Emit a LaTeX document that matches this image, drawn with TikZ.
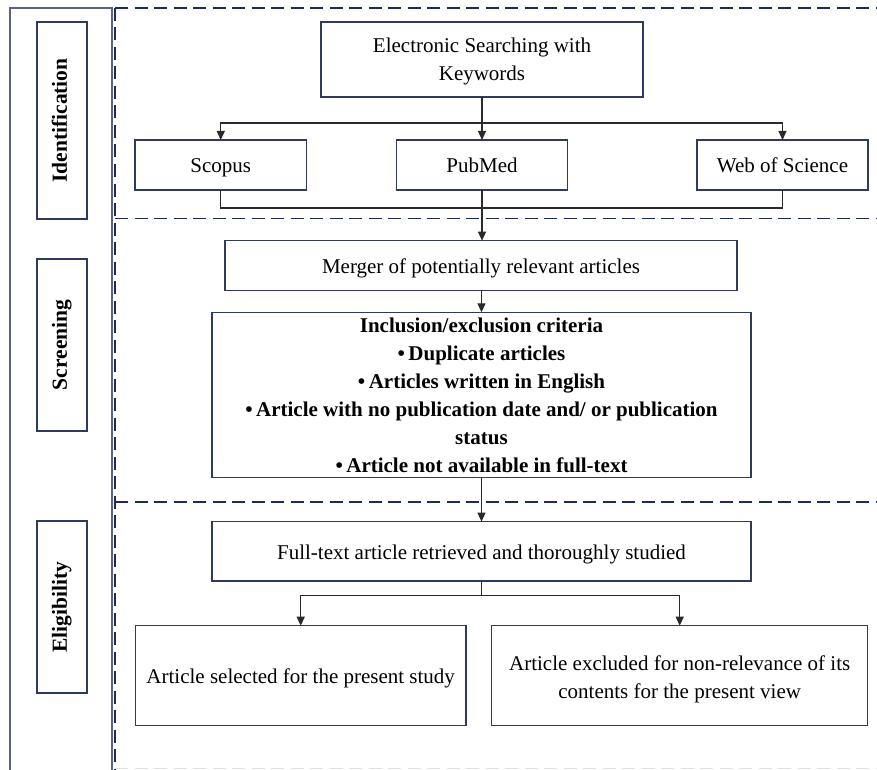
\documentclass[tikz,border=0pt]{standalone}
\usepackage{fontspec}
\setmainfont{Liberation Serif}
\usetikzlibrary{arrows.meta}
\definecolor{boxc}{HTML}{2F3A5F}
\definecolor{panelc}{HTML}{5C6285}
\definecolor{dashc}{HTML}{1F2A5C}
\definecolor{connc}{HTML}{2A2A2A}
\begin{document}
\begin{tikzpicture}[x=1pt,y=-1pt,
  every node/.style={font=\fontsize{21}{28}\selectfont, inner sep=0pt, outer sep=0pt},
  box/.style={draw=boxc, line width=1.3pt, align=center, fill=white},
  sl/.style={text height=19pt, text depth=3.1pt},
  lbl/.style={draw=boxc, line width=1.3pt, rotate=90, minimum height=50, text height=14.5pt, text depth=4.6pt, font=\fontsize{21.5}{26}\selectfont\bfseries},
  conn/.style={draw=connc, line width=1.2pt},
  arr/.style={-{Triangle[length=9pt,width=8pt]}},
  dsh/.style={draw=dashc, line width=1.7pt, dash pattern=on 13pt off 6.5pt},
  panel/.style={draw=panelc, line width=1.3pt}]
\useasboundingbox (0,0) rectangle (877,770);

% frames
\draw[panel] (10,770) -- (10,8) -- (112,8) -- (112,770);
\draw[dsh] (115,8) -- (877,8);
\draw[dsh] (115,218.5) -- (877,218.5);
\draw[dsh] (115,501.7) -- (877,501.7);
\draw[draw=black!12, line width=1.2pt, dash pattern=on 13pt off 6.5pt] (115,768.5) -- (877,768.5);
\draw[dsh] (115,8) -- (115,770);

% stage labels
\node[lbl, minimum width=197] (ident) at (62,120.5) {Identification};
\node[lbl, minimum width=172] (screen) at (62,345) {Screening};
\node[lbl, minimum width=172] (elig) at (62,607) {Eligibility};

% boxes
\node[box, minimum width=322, minimum height=75] (elec) at (482,59.5) {\rule{0pt}{18.5pt}Electronic Searching with\\Keywords};
\node[box, sl, minimum width=171.5, minimum height=50] (scopus) at (220.75,165) {Scopus};
\node[box, sl, minimum width=171.5, minimum height=50] (pubmed) at (482,165) {PubMed};
\node[box, sl, minimum width=171, minimum height=50] (wos) at (782.5,165) {Web of Science};
\node[box, sl, minimum width=512, minimum height=50] (merger) at (481,265.7) {Merger of potentially relevant articles};
\node[box, minimum width=539, minimum height=165.4, font=\fontsize{21}{28}\selectfont\bfseries] (incl) at (481.5,395)
  {Inclusion/exclusion criteria\\
   •\,Duplicate articles\\
   •\,Articles written in English\\
   •\,Article with no publication date and/ or publication\\
   status\\
   •\,Article not available in full-text};
\node[box, sl, minimum width=539, minimum height=59.3] (full) at (481.5,551.3) {Full-text article retrieved and thoroughly studied};
\node[box, sl, minimum width=330.7, minimum height=99.6] (sel) at (300.7,675.5) {Article selected for the present study};
\node[box, minimum width=376, minimum height=99.6] (excl) at (679.7,675.5) {\rule{0pt}{21.5pt}Article excluded for non-relevance of its\\contents for the present view};

% connectors
\coordinate (j1) at (482,123);
\coordinate (j2) at (482,208);
\coordinate (j3) at (481.5,595.7);
\draw[conn] (elec.south) -- (j1);
\draw[conn,arr] (j1) -| (scopus.north);
\draw[conn,arr] (j1) -| (wos.north);
\draw[conn,arr] (elec.south) -- (pubmed.north);
\draw[conn] (scopus.south) |- (j2) -| (wos.south);
\draw[conn,arr] (pubmed.south) -- (pubmed.south |- merger.north);
\draw[conn,arr] (merger.south -| incl.north) -- (incl.north);
\draw[conn,arr] (incl.south) -- (full.north);
\draw[conn] (full.south) -- (j3);
\draw[conn,arr] (j3) -| (sel.north);
\draw[conn,arr] (j3) -| (excl.north);
\end{tikzpicture}
\end{document}
